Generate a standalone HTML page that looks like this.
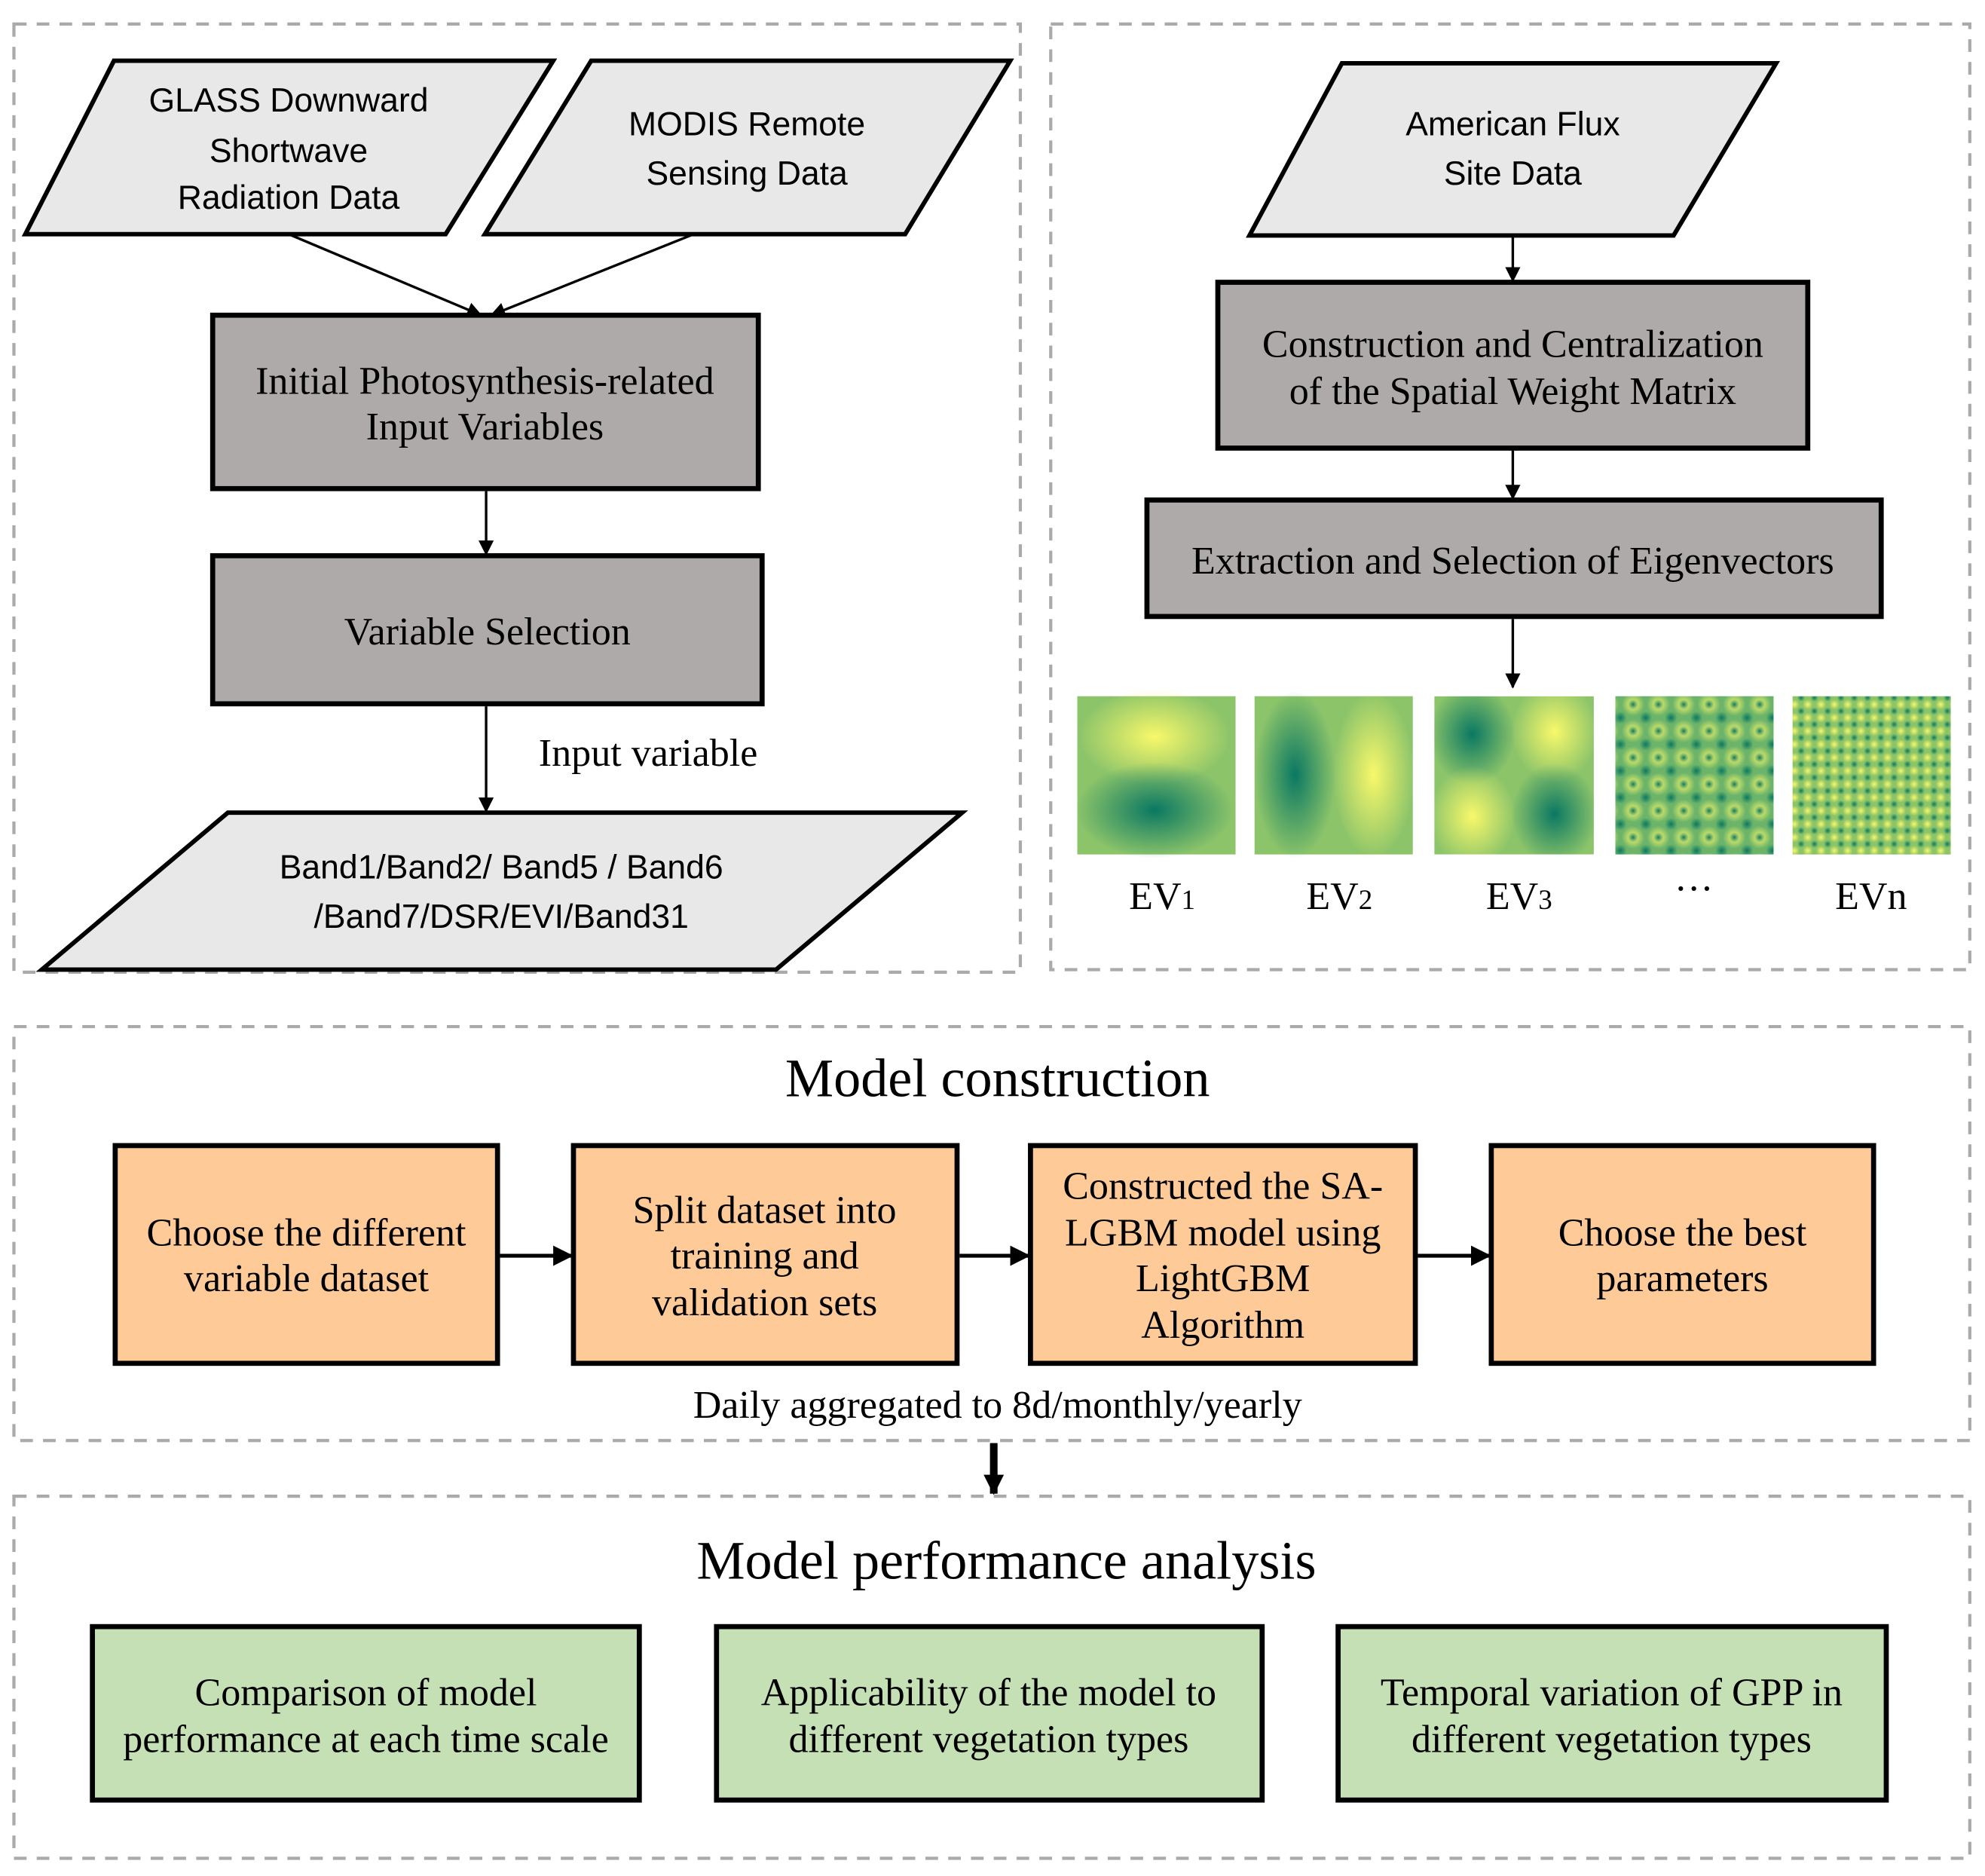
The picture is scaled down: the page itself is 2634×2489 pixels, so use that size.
<!DOCTYPE html>
<html><head><meta charset="utf-8"><style>
html,body{margin:0;padding:0;background:#fff}
svg{display:block}
.s{font-family:"Liberation Sans",sans-serif;font-size:26.5px;fill:#000;text-anchor:middle}
.r{font-family:"Liberation Serif",serif;font-size:31px;fill:#000;text-anchor:middle}
</style></head><body>
<svg width="2634" height="2489" viewBox="0 0 1568 1482" preserveAspectRatio="none" xmlns="http://www.w3.org/2000/svg">
<defs>
<marker id="a" markerWidth="12" markerHeight="12" refX="11" refY="6" orient="auto" markerUnits="userSpaceOnUse" viewBox="0 0 12 12"><path d="M0,0 L12,6 L0,12 z" fill="#000"/></marker>
<marker id="b" markerWidth="16" markerHeight="16" refX="15" refY="8" orient="auto" markerUnits="userSpaceOnUse" viewBox="0 0 16 16"><path d="M0,0 L16,8 L0,16 z" fill="#000"/></marker>
<radialGradient id="gy"><stop offset="0" stop-color="#f8f86a"/><stop offset="1" stop-color="#f8f86a" stop-opacity="0"/></radialGradient>
<radialGradient id="gd"><stop offset="0" stop-color="#0a7862"/><stop offset="1" stop-color="#0a7862" stop-opacity="0"/></radialGradient>
<clipPath id="c3"><rect x="1133" y="550" width="126" height="125"/></clipPath>
<pattern id="p4" width="20" height="21" patternUnits="userSpaceOnUse"><rect width="20" height="21" fill="#6cb46a"/><circle cx="10" cy="10.5" r="9" fill="url(#gy)"/><circle cx="10" cy="10.5" r="4" fill="url(#gd)"/><circle cx="0" cy="0" r="5" fill="url(#gd)"/><circle cx="20" cy="0" r="5" fill="url(#gd)"/><circle cx="0" cy="21" r="5" fill="url(#gd)"/><circle cx="20" cy="21" r="5" fill="url(#gd)"/></pattern>
<pattern id="p5" width="10.5" height="10.5" patternUnits="userSpaceOnUse"><rect width="10.5" height="10.5" fill="#8cc468"/><circle cx="5.25" cy="5.25" r="3" fill="url(#gd)"/><circle cx="0" cy="0" r="4" fill="url(#gy)"/><circle cx="10.5" cy="0" r="4" fill="url(#gy)"/><circle cx="0" cy="10.5" r="4" fill="url(#gy)"/><circle cx="10.5" cy="10.5" r="4" fill="url(#gy)"/></pattern>
</defs>
<g fill="none" stroke="#aaa" stroke-width="2.5" stroke-dasharray="10,8">
<rect x="11" y="19" width="795" height="749"/>
<rect x="830" y="19" width="726" height="747"/>
<rect x="11" y="811" width="1545" height="327"/>
<rect x="11" y="1182" width="1545" height="286"/>
</g>
<g stroke="#000" stroke-width="3.5" fill="#e8e8e8">
<polygon points="20,185 90,48 437,48 352,185"/>
<polygon points="383,185 467,48 798,48 715,185"/>
<polygon points="33,766 180,642 760,642 613,766"/>
<polygon points="987,186 1060,50 1403,50 1322,186"/>
</g>
<g stroke="#000" stroke-width="4" fill="#aeaaa9">
<rect x="168" y="249" width="431" height="137"/>
<rect x="168" y="439" width="434" height="117"/>
<rect x="962" y="223" width="466" height="131"/>
<rect x="906" y="395" width="580" height="92"/>
</g>
<g stroke="#000" stroke-width="4" fill="#fecb98">
<rect x="91" y="905" width="302" height="172"/>
<rect x="453" y="905" width="303" height="172"/>
<rect x="814" y="905" width="304" height="172"/>
<rect x="1178" y="905" width="302" height="172"/>
</g>
<g stroke="#000" stroke-width="4" fill="#c5e0b4">
<rect x="73" y="1285" width="432" height="137"/>
<rect x="566" y="1285" width="431" height="137"/>
<rect x="1057" y="1285" width="433" height="137"/>
</g>
<g stroke="#000" stroke-width="2" marker-end="url(#a)">
<line x1="228" y1="185" x2="380" y2="249"/>
<line x1="548" y1="185" x2="388" y2="249"/>
<line x1="384" y1="388" x2="384" y2="438"/>
<line x1="384" y1="558" x2="384" y2="641"/>
<line x1="1195" y1="187" x2="1195" y2="222"/>
<line x1="1195" y1="356" x2="1195" y2="394"/>
<line x1="1195" y1="489" x2="1195" y2="543"/>
</g>
<g stroke="#000" stroke-width="3" marker-end="url(#b)">
<line x1="395" y1="992" x2="452" y2="992"/>
<line x1="758" y1="992" x2="813" y2="992"/>
<line x1="1120" y1="992" x2="1177" y2="992"/>
</g>
<line x1="785" y1="1140" x2="785" y2="1180" stroke="#000" stroke-width="6" marker-end="url(#b)"/>
<g>
<rect x="851" y="550" width="125" height="125" fill="#8cc46a"/>
<ellipse cx="912" cy="582" rx="60" ry="38" fill="url(#gy)"/>
<ellipse cx="912" cy="640" rx="62" ry="38" fill="url(#gd)"/>
<rect x="991" y="550" width="125" height="125" fill="#8cc46a"/>
<ellipse cx="1023" cy="612" rx="32" ry="66" fill="url(#gd)"/>
<ellipse cx="1085" cy="612" rx="32" ry="66" fill="url(#gy)"/>
<g clip-path="url(#c3)">
<rect x="1133" y="550" width="126" height="125" fill="#8cc46a"/>
<ellipse cx="1163" cy="580" rx="34" ry="40" fill="url(#gd)"/>
<ellipse cx="1228" cy="578" rx="34" ry="40" fill="url(#gy)"/>
<ellipse cx="1163" cy="645" rx="34" ry="40" fill="url(#gy)"/>
<ellipse cx="1228" cy="643" rx="34" ry="40" fill="url(#gd)"/>
</g>
<rect x="1276" y="550" width="125" height="125" fill="url(#p4)"/>
<rect x="1416" y="550" width="125" height="125" fill="url(#p5)"/>
</g>
<text class="s" x="228" y="88">GLASS Downward</text>
<text class="s" x="228" y="128">Shortwave</text>
<text class="s" x="228" y="165">Radiation Data</text>
<text class="s" x="590" y="107">MODIS Remote</text>
<text class="s" x="590" y="146">Sensing Data</text>
<text class="s" x="396" y="694">Band1/Band2/ Band5 / Band6</text>
<text class="s" x="396" y="733">/Band7/DSR/EVI/Band31</text>
<text class="s" x="1195" y="107">American Flux</text>
<text class="s" x="1195" y="146">Site Data</text>
<text class="r" x="383" y="311">Initial Photosynthesis-related</text>
<text class="r" x="383" y="347">Input Variables</text>
<text class="r" x="385" y="509">Variable Selection</text>
<text class="r" x="512" y="605">Input variable</text>
<text class="r" x="1195" y="282">Construction and Centralization</text>
<text class="r" x="1195" y="319">of the Spatial Weight Matrix</text>
<text class="r" x="1195" y="453">Extraction and Selection of Eigenvectors</text>
<text class="r" x="918" y="718">EV<tspan font-size="22">1</tspan></text>
<text class="r" x="1058" y="718">EV<tspan font-size="22">2</tspan></text>
<text class="r" x="1200" y="718">EV<tspan font-size="22">3</tspan></text>
<text class="r" x="1338" y="712">···</text>
<text class="r" x="1478" y="718">EVn</text>
<text class="r" x="788" y="866" style="font-size:43px">Model construction</text>
<text class="r" x="242" y="984">Choose the different</text>
<text class="r" x="242" y="1020">variable dataset</text>
<text class="r" x="604" y="966">Split dataset into</text>
<text class="r" x="604" y="1002">training and</text>
<text class="r" x="604" y="1039">validation sets</text>
<text class="r" x="966" y="947">Constructed the SA-</text>
<text class="r" x="966" y="984">LGBM model using</text>
<text class="r" x="966" y="1020">LightGBM</text>
<text class="r" x="966" y="1057">Algorithm</text>
<text class="r" x="1329" y="984">Choose the best</text>
<text class="r" x="1329" y="1020">parameters</text>
<text class="r" x="788" y="1120">Daily aggregated to 8d/monthly/yearly</text>
<text class="r" x="795" y="1247" style="font-size:43px">Model performance analysis</text>
<text class="r" x="289" y="1347">Comparison of model</text>
<text class="r" x="289" y="1384">performance at each time scale</text>
<text class="r" x="781" y="1347">Applicability of the model to</text>
<text class="r" x="781" y="1384">different vegetation types</text>
<text class="r" x="1273" y="1347">Temporal variation of GPP in</text>
<text class="r" x="1273" y="1384">different vegetation types</text>
</svg>
</body></html>
